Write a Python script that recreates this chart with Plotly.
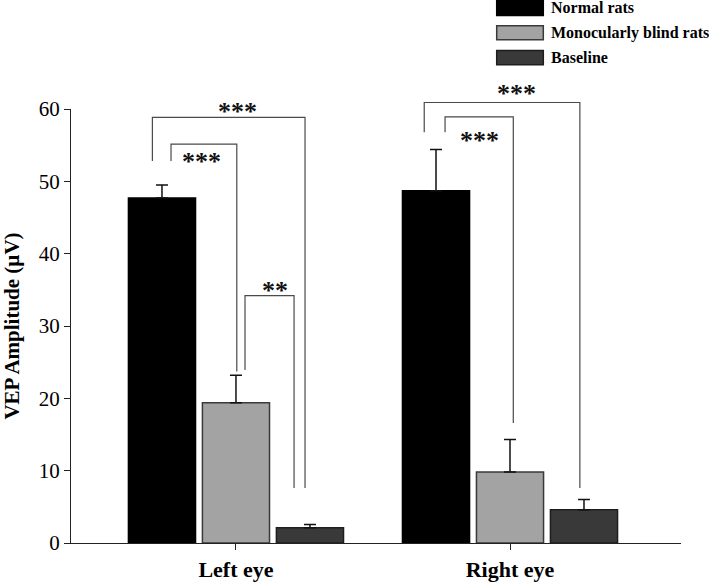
import plotly.graph_objects as go

# ---- data ----
groups = ["Left eye", "Right eye"]
series_names = ["Normal rats", "Monocularly blind rats", "Baseline"]
normal_vals = [47.7, 48.7]
normal_err = [1.8, 5.7]
mono_vals = [19.4, 9.8]
mono_err = [3.8, 4.5]
base_vals = [2.1, 4.6]
base_err = [0.45, 1.4]

# significance brackets: x_left, x_right, y_left_start, y_top, y_right_end, label, label_x, label_y
br_xl = [-0.305, -0.237, 0.033, 0.687, 0.763]
br_xr = [0.252, 0.003, 0.212, 1.255, 1.012]
br_yl = [52.8, 52.8, 23.9, 56.8, 56.8]
br_top = [58.85, 55.15, 34.2, 60.9, 58.9]
br_yr = [7.6, 23.7, 7.6, 7.6, 16.6]
br_lab = ["***", "***", "**", "***", "***"]
br_lab_x = [0.007, -0.124, 0.142, 1.024, 0.887]
br_lab_y = [60.2, 53.3, 35.5, 62.7, 56.2]

fills = ["#000000", "#a3a3a3", "#393939"]
edges = ["#000000", "#3a3a3a", "#1e1e1e"]
SERIF = "Liberation Serif, Times New Roman, serif"

fig = go.Figure()
for name, vals, errs, fc, ec in zip(series_names,
                                    [normal_vals, mono_vals, base_vals],
                                    [normal_err, mono_err, base_err],
                                    fills, edges):
    fig.add_trace(go.Bar(
        x=groups, y=vals, name=name,
        marker=dict(color=fc, line=dict(color=ec, width=1.5)),
        error_y=dict(type="data", array=errs, arrayminus=[0] * len(errs),
                     symmetric=False, color="#111111", thickness=1.5, width=6),
        showlegend=False,
    ))

YMAX = 60.0
shapes = []
annotations = []
for xl, xr, yl, yt, yr, lab, lx, ly in zip(br_xl, br_xr, br_yl, br_top, br_yr,
                                           br_lab, br_lab_x, br_lab_y):
    path = (f"M {xl},{yl / YMAX} L {xl},{yt / YMAX} L {xr},{yt / YMAX} L {xr},{yr / YMAX}")
    shapes.append(dict(type="path", xref="x", yref="paper", path=path,
                       line=dict(color="#4a4a4a", width=1.2)))
    annotations.append(dict(x=lx, y=(ly - 0.6) / YMAX, xref="x", yref="paper",
                            text=f"<b>{lab}</b>", showarrow=False,
                            font=dict(family=SERIF, size=26, color="#111111"),
                            xanchor="center", yanchor="middle"))

# manual legend (pixel layout converted to paper coordinates)
L, R, T, B = 71, 28, 109.3, 41.7
W, H = 709, 585
pw, ph = W - L - R, H - T - B
def px2x(px):
    return (px - L) / pw
def px2y(py):
    return (H - B - py) / ph

leg_y_top = [0.5, 26, 50.7]
leg_y_bot = [15.7, 40, 65]
for name, fc, ec, yt, yb in zip(series_names, fills, edges, leg_y_top, leg_y_bot):
    shapes.append(dict(type="rect", xref="paper", yref="paper",
                       x0=px2x(496.7), x1=px2x(543.3), y0=px2y(yb), y1=px2y(yt),
                       fillcolor=fc, line=dict(color=ec, width=1.5)))
    annotations.append(dict(x=px2x(549), y=px2y((yt + yb) / 2), xref="paper", yref="paper",
                            text=f"<b>{name}</b>", showarrow=False,
                            font=dict(family=SERIF, size=16, color="#000000"),
                            xanchor="left", yanchor="middle"))

fig.update_layout(
    width=W, height=H,
    margin=dict(l=L, r=R, t=T, b=B),
    paper_bgcolor="white", plot_bgcolor="white",
    barmode="group", bargap=0.19, bargroupgap=0.093,
    shapes=shapes, annotations=annotations,
    showlegend=False,
    xaxis=dict(type="category", range=[-0.602, 1.624], showline=True,
               linecolor="#222222", linewidth=1.2, ticks="outside", ticklen=6,
               tickcolor="#222222", showgrid=False, zeroline=False,
               tickfont=dict(family=SERIF, size=22, color="#000000"),
               tickprefix="<b>", ticksuffix="</b>", automargin=False),
    yaxis=dict(range=[0, 60], tickvals=[0, 10, 20, 30, 40, 50, 60],
               showline=True, linecolor="#222222", linewidth=1.2,
               ticks="outside", ticklen=6, tickcolor="#222222",
               showgrid=False, zeroline=False,
               tickfont=dict(family=SERIF, size=21, color="#000000"),
               title=dict(text="<b>VEP Amplitude (µV)</b>", standoff=14,
                          font=dict(family=SERIF, size=21, color="#000000")),
               automargin=False),
)

fig.write_html("out.html",
               config={"displayModeBar": False},
               post_script="document.body.style.margin='0';document.body.style.overflow='hidden';")
